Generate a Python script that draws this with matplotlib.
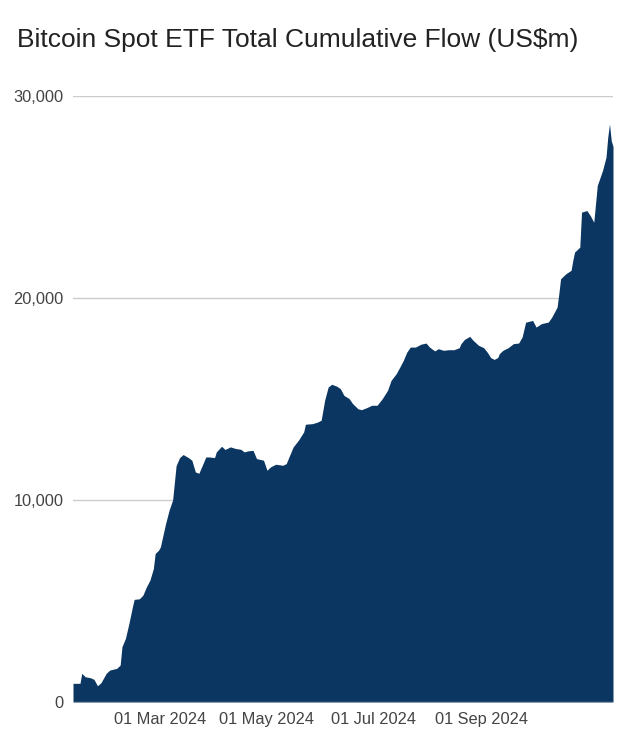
import matplotlib
matplotlib.use("Agg")
import matplotlib.pyplot as plt
import pandas as pd

title = "Bitcoin Spot ETF Total Cumulative Flow (US$m)"

dates = [
    "2024-01-11", "2024-01-15", "2024-01-16", "2024-01-18", "2024-01-21", "2024-01-23",
    "2024-01-25", "2024-01-27", "2024-01-30", "2024-02-01", "2024-02-05", "2024-02-07",
    "2024-02-08", "2024-02-10", "2024-02-12", "2024-02-14", "2024-02-15", "2024-02-18",
    "2024-02-20", "2024-02-22", "2024-02-24", "2024-02-26", "2024-02-27", "2024-02-29",
    "2024-03-01", "2024-03-04", "2024-03-06", "2024-03-08", "2024-03-10", "2024-03-12",
    "2024-03-14", "2024-03-17", "2024-03-19", "2024-03-21", "2024-03-23", "2024-03-25",
    "2024-03-27", "2024-03-29", "2024-04-01", "2024-04-02", "2024-04-05", "2024-04-07",
    "2024-04-10", "2024-04-13", "2024-04-16", "2024-04-18", "2024-04-20", "2024-04-23",
    "2024-04-25", "2024-04-29", "2024-05-01", "2024-05-03", "2024-05-06", "2024-05-10",
    "2024-05-12", "2024-05-14", "2024-05-16", "2024-05-19", "2024-05-22", "2024-05-23",
    "2024-05-27", "2024-05-30", "2024-06-01", "2024-06-03", "2024-06-05", "2024-06-07",
    "2024-06-10", "2024-06-12", "2024-06-14", "2024-06-17", "2024-06-19", "2024-06-22",
    "2024-06-24", "2024-06-27", "2024-06-30", "2024-07-03", "2024-07-06", "2024-07-09",
    "2024-07-11", "2024-07-14", "2024-07-16", "2024-07-18", "2024-07-20", "2024-07-22",
    "2024-07-25", "2024-07-28", "2024-07-31", "2024-08-02", "2024-08-05", "2024-08-07",
    "2024-08-10", "2024-08-13", "2024-08-16", "2024-08-19", "2024-08-20", "2024-08-22",
    "2024-08-25", "2024-08-27", "2024-08-30", "2024-09-02", "2024-09-04", "2024-09-06",
    "2024-09-08", "2024-09-10", "2024-09-11", "2024-09-13", "2024-09-16", "2024-09-19",
    "2024-09-22", "2024-09-24", "2024-09-26", "2024-09-30", "2024-10-02", "2024-10-05",
    "2024-10-09", "2024-10-11", "2024-10-14", "2024-10-15", "2024-10-16", "2024-10-19",
    "2024-10-22", "2024-10-23", "2024-10-24", "2024-10-27", "2024-10-28", "2024-10-31",
    "2024-11-02", "2024-11-04", "2024-11-06", "2024-11-09", "2024-11-11", "2024-11-12",
    "2024-11-13", "2024-11-14", "2024-11-15",
]

cumulative_flow = [
    925, 925, 1420, 1250, 1200, 1120,
    805, 955, 1420, 1580, 1665, 1830,
    2735, 3150, 3890, 4710, 5080, 5110,
    5290, 5700, 6030, 6610, 7350, 7520,
    7680, 8840, 9500, 10000, 11700, 12100,
    12250, 12100, 11970, 11390, 11320, 11720,
    12130, 12130, 12100, 12380, 12660, 12500,
    12630, 12550, 12510, 12380, 12430, 12460,
    12050, 11970, 11470, 11640, 11770, 11720,
    11800, 12220, 12630, 12960, 13370, 13750,
    13780, 13860, 13950, 14940, 15590, 15730,
    15630, 15510, 15180, 15020, 14770, 14520,
    14470, 14570, 14690, 14690, 15020, 15430,
    15920, 16260, 16580, 16910, 17320, 17570,
    17570, 17710, 17770, 17570, 17380, 17490,
    17410, 17440, 17440, 17540, 17740, 17950,
    18100, 17900, 17660, 17540, 17320, 17050,
    16960, 17050, 17250, 17410, 17540, 17740,
    17770, 18070, 18800, 18890, 18560, 18730,
    18810, 19060, 19550, 20210, 20950, 21200,
    21370, 21860, 22270, 22520, 24250, 24330,
    24080, 23750, 25570, 26310, 26970, 27960,
    28620, 27790, 27500,
]

y_ticks = [0, 10000, 20000, 30000]
x_tick_dates = ["2024-03-01", "2024-05-01", "2024-07-01", "2024-09-01"]
x_tick_labels = ["01 Mar 2024", "01 May 2024", "01 Jul 2024", "01 Sep 2024"]

plt.rcParams["font.family"] = ["Liberation Sans", "DejaVu Sans"]

x = pd.to_datetime(dates)
fig = plt.figure(figsize=(6.39, 7.36), dpi=100)
ax = fig.add_axes([73 / 639, 1 - 702 / 736, 540 / 639, (702 - 96) / 736])

ax.fill_between(x, 0, cumulative_flow, color="#0a3661", lw=0, zorder=2)
ax.set_xlim(x[0], x[-1])
ax.set_ylim(0, 30000)

ax.set_yticks(y_ticks)
ax.set_yticklabels([f"{v:,}" for v in y_ticks])
ax.set_xticks(pd.to_datetime(x_tick_dates))
ax.set_xticklabels(x_tick_labels)

for v in y_ticks[1:]:
    ax.axhline(v, color="#cccccc", lw=1.0, zorder=1)
ax.axhline(0, color="#999999", lw=1.0, zorder=3)

for s in ax.spines.values():
    s.set_visible(False)
ax.tick_params(axis="both", length=0, labelsize=11.8, colors="#444444")
ax.tick_params(axis="y", pad=7)
ax.tick_params(axis="x", pad=7)

fig.text(17 / 639, 1 - 40 / 736, title, fontsize=19.0, color="#222222",
         ha="left", va="center")

fig.savefig("out.png", dpi=100)
